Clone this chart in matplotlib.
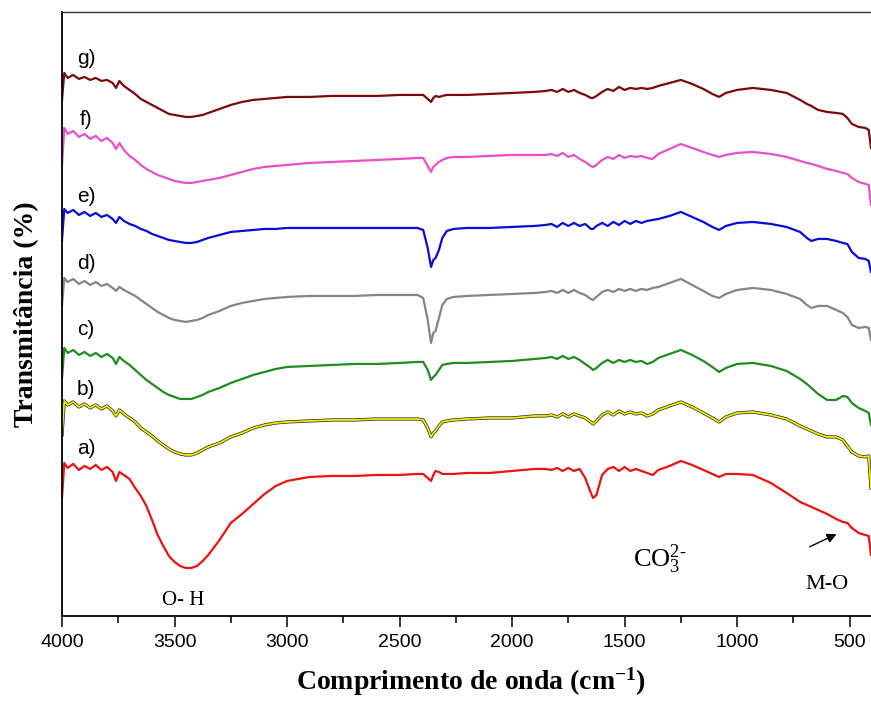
import numpy as np
import matplotlib
matplotlib.use("Agg")
import matplotlib.pyplot as plt

plt.rcParams['mathtext.fontset'] = 'custom'
plt.rcParams['mathtext.rm'] = 'Liberation Serif'
plt.rcParams['mathtext.bf'] = 'Liberation Serif:bold'

############ data (arbitrary transmittance units) ############
wavenumber = [4000, 3990, 3975, 3950, 3925, 3900, 3875, 3850, 3825, 3800, 3775, 3760, 3745, 3725, 3700, 3675, 3650, 3625, 3600,
              3575, 3550, 3525, 3500, 3475, 3450, 3425, 3400, 3375, 3350, 3300, 3250, 3200, 3150, 3100, 3050, 3000,
              2900, 2800, 2700, 2600, 2500, 2420, 2395, 2375, 2360, 2350, 2340, 2325, 2310, 2290, 2260, 2200, 2100, 2000, 1900, 1850,
              1825, 1800, 1775, 1750, 1725, 1700, 1675, 1650, 1640, 1625, 1600, 1575, 1550, 1525, 1500, 1475, 1450, 1425, 1400, 1375,
              1350, 1300, 1250, 1200, 1150, 1110, 1080, 1050, 1000, 930, 850, 780, 720, 690, 670, 640, 600, 560, 530, 510, 490, 460, 430, 415, 405]

trans_a = [123, 157, 152, 156, 150, 154, 151, 155, 150, 153, 148, 139, 148, 145, 141, 132, 124, 114, 100,
           85, 74, 64, 58, 54, 52, 52, 54, 59, 65, 80, 97, 106, 116, 126, 134, 139,
           143, 144, 144, 145, 145, 146, 146, 142, 139, 145, 149, 148, 146, 146, 146, 147, 147, 149, 151, 151,
           150, 152, 149, 152, 149, 151, 142, 127, 122, 125, 145, 151, 153, 149, 153, 149, 151, 149, 147, 145,
           150, 154, 159, 155, 150, 146, 143, 146, 146, 145, 137, 127, 118, 115, 113, 110, 106, 101, 98, 97, 92, 87, 85, 84, 65]

trans_b = [185, 219, 215, 218, 213, 216, 212, 215, 211, 214, 209, 204, 210, 206, 202, 198, 192, 188, 184,
           179, 175, 171, 168, 166, 165, 165, 167, 170, 173, 177, 183, 187, 192, 195, 197, 198,
           199, 200, 200, 201, 201, 201, 200, 192, 183, 187, 189, 194, 198, 199, 200, 201, 202, 202, 204, 204,
           205, 203, 206, 203, 206, 204, 202, 198, 196, 199, 205, 208, 205, 209, 206, 208, 206, 207, 204, 206,
           210, 214, 218, 213, 207, 202, 198, 203, 207, 208, 205, 201, 194, 191, 189, 186, 183, 183, 180, 174, 168, 164, 163, 164, 132]

trans_c = [242, 272, 267, 270, 265, 268, 264, 267, 263, 266, 262, 256, 263, 259, 255, 250, 245, 240, 236,
           232, 228, 225, 223, 221, 221, 221, 223, 225, 228, 232, 237, 241, 245, 248, 251, 253,
           254, 255, 256, 256, 257, 258, 258, 250, 240, 243, 245, 250, 255, 256, 257, 257, 258, 259, 261, 262,
           263, 261, 264, 261, 263, 260, 256, 252, 250, 252, 257, 260, 257, 260, 258, 260, 258, 259, 256, 258,
           262, 266, 270, 265, 259, 253, 248, 252, 256, 257, 254, 249, 241, 236, 232, 226, 220, 220, 224, 223, 217, 212, 209, 207, 195]

trans_d = [315, 342, 338, 341, 336, 339, 335, 338, 334, 336, 332, 329, 333, 330, 327, 324, 320, 316, 312,
           308, 305, 302, 300, 299, 298, 299, 300, 302, 305, 309, 314, 317, 319, 321, 322, 323,
           324, 324, 324, 325, 325, 325, 322, 300, 277, 287, 289, 302, 315, 321, 323, 324, 325, 326, 327, 328,
           329, 327, 330, 327, 330, 327, 325, 321, 320, 323, 328, 330, 328, 331, 329, 331, 329, 331, 330, 332,
           333, 337, 341, 335, 329, 324, 322, 326, 330, 332, 330, 326, 321, 315, 312, 314, 314, 310, 307, 303, 295, 292, 293, 292, 280]

trans_e = [380, 411, 407, 410, 405, 408, 404, 407, 403, 405, 401, 397, 403, 399, 396, 394, 391, 389, 386,
           384, 382, 380, 379, 378, 377, 377, 378, 380, 382, 385, 388, 389, 390, 391, 391, 392,
           392, 392, 392, 392, 392, 392, 390, 372, 353, 360, 362, 370, 382, 389, 391, 392, 392, 393, 394, 395,
           396, 393, 397, 394, 397, 394, 396, 391, 391, 394, 397, 394, 398, 395, 399, 396, 399, 397, 399, 400,
           401, 404, 408, 403, 398, 393, 390, 394, 397, 398, 396, 393, 388, 382, 379, 381, 381, 379, 377, 376, 368, 362, 361, 359, 348]

trans_f = [455, 492, 486, 489, 483, 486, 481, 484, 479, 482, 477, 471, 477, 470, 464, 460, 455, 451, 448,
           445, 443, 441, 439, 438, 437, 437, 438, 439, 440, 442, 445, 448, 451, 453, 454, 455,
           457, 458, 459, 460, 461, 462, 462, 454, 448, 453, 455, 458, 460, 462, 463, 463, 464, 465, 465, 465,
           466, 464, 467, 463, 465, 461, 458, 454, 453, 455, 460, 463, 461, 465, 462, 464, 463, 464, 462, 461,
           466, 471, 476, 472, 468, 465, 463, 465, 467, 468, 466, 463, 459, 457, 456, 454, 451, 449, 447, 446, 442, 438, 436, 435, 415]

trans_g = [520, 547, 542, 545, 541, 543, 540, 542, 539, 540, 537, 532, 539, 534, 530, 526, 521, 518, 515,
           512, 509, 506, 505, 504, 503, 503, 504, 505, 507, 511, 515, 518, 520, 521, 522, 523,
           523, 524, 524, 524, 525, 525, 525, 521, 518, 522, 524, 523, 524, 525, 525, 525, 526, 527, 528, 529,
           530, 528, 531, 528, 530, 527, 525, 522, 522, 524, 528, 531, 529, 533, 530, 532, 531, 532, 531, 532,
           534, 537, 540, 536, 531, 526, 523, 527, 530, 532, 530, 527, 520, 516, 514, 510, 508, 507, 506, 502, 496, 493, 492, 490, 472]

labels = ['a)', 'b)', 'c)', 'd)', 'e)', 'f)', 'g)']
label_y = [171, 230, 290, 356, 423, 500, 561]

############ plotting ############
fig = plt.figure(figsize=(8.71, 7.15), dpi=100)
ax = fig.add_axes([0.0712, 0.1385, 0.9288, 0.8448])

ax.plot(wavenumber, trans_a, color='#ee1111', lw=1.6)
ax.plot(wavenumber, trans_b, color='#222222', lw=2.3)
ax.plot(wavenumber, trans_b, color='#f2f000', lw=1.3)
ax.plot(wavenumber, trans_c, color='#1e8c1e', lw=1.6)
ax.plot(wavenumber, trans_d, color='#858585', lw=1.6)
ax.plot(wavenumber, trans_e, color='#0a0adc', lw=1.6)
ax.plot(wavenumber, trans_f, color='#e850c8', lw=1.6)
ax.plot(wavenumber, trans_g, color='#7a0a0a', lw=1.6)

for lab, y in zip(labels, label_y):
    ax.text(3893, y, lab, fontsize=15, family='Liberation Sans', ha='center', va='center')

serif = 'Liberation Serif'
ax.text(3462, 19, 'O- H', fontsize=15, family=serif, ha='center', va='center')
ax.text(1345, 61, r'$\mathregular{CO_3^{2\text{-}}}$', fontsize=19, family=serif, ha='center', va='center')
ax.text(600, 35, 'M-O', fontsize=16, family=serif, ha='center', va='center')
ax.annotate('', xy=(547, 87), xytext=(689, 72),
            arrowprops=dict(arrowstyle='-|>', color='black', lw=1.0, mutation_scale=14))

ax.set_xlim(4000, 405)
ax.set_ylim(4, 608)
ax.set_xticks([4000, 3500, 3000, 2500, 2000, 1500, 1000, 500])
ax.set_xticks([3750, 3250, 2750, 2250, 1750, 1250, 750], minor=True)
ax.set_yticks([])
ax.tick_params(axis='x', which='major', direction='out', length=8, width=1.1, pad=5, labelsize=14)
ax.tick_params(axis='x', which='minor', direction='out', length=5, width=1.1)
for t in ax.get_xticklabels():
    t.set_family('Liberation Sans')

ax.spines['right'].set_visible(False)
for s in ['left', 'bottom']:
    ax.spines[s].set_linewidth(1.3)
ax.spines['top'].set_linewidth(1.0)
ax.spines['top'].set_color('#333333')

fig.text(0.541, 0.047, r'Comprimento de onda (cm$\mathbf{^{-1}}$)', fontsize=20, family=serif,
         fontweight='bold', ha='center', va='center')
fig.text(0.031, 0.56, 'Transmitância (%)', fontsize=20, family=serif, fontweight='bold',
         ha='center', va='center', rotation=90)

plt.savefig('out.png', dpi=100)
